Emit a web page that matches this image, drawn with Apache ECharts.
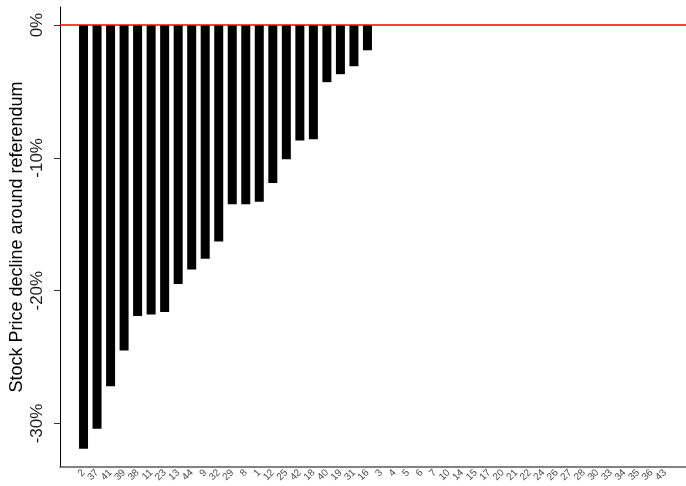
<!DOCTYPE html>
<html>
<head>
<meta charset="utf-8">
<script src="https://cdn.jsdelivr.net/npm/echarts@6/dist/echarts.min.js"></script>
<style>
  html, body { margin: 0; padding: 0; background: #fff; }
  #chart { width: 686px; height: 486px; }
</style>
</head>
<body>
<div id="chart"></div>
<script>
// Stock identifiers, ordered by size of the decline
const categories = ['2','37','41','39','38','11','23','13','44','9','32','29','8','1','12','25','42','18','40','19','31','16',
  '3','4','5','6','7','10','14','15','17','20','21','22','24','26','27','28','30','33','34','35','36','43'];

// Price change around the referendum, in percent
const declines = [-31.9, -30.4, -27.2, -24.5, -21.9, -21.8, -21.6, -19.5, -18.4, -17.6, -16.3, -13.5, -13.5, -13.3,
  -11.9, -10.1, -8.7, -8.6, -4.3, -3.7, -3.1, -1.9,
  0, 0, 0, 0, 0, 0, 0, 0, 0, 0, 0, 0, 0, 0, 0, 0, 0, 0, 0, 0, 0, 0];

const yTicks = [0, -10, -20, -30];

const X_MIN = -1.74;
const X_MAX = 44.56;

const chart = echarts.init(document.getElementById('chart'), null, { renderer: 'canvas' });

// Blank labels at both ends of the axis keep every category label visible
const xLabelValues = [X_MIN, ...categories.map((_, i) => i), X_MAX];

chart.setOption({
  animation: false,
  backgroundColor: '#ffffff',
  grid: { left: 60, right: 0, top: 7, bottom: 19, containLabel: false, outerBoundsMode: 'none' },
  xAxis: {
    type: 'value',
    min: X_MIN,
    max: X_MAX,
    splitLine: { show: false },
    axisLine: { show: true, onZero: false, lineStyle: { color: '#5a5a5a', width: 1.5 } },
    axisTick: { show: false },
    axisLabel: {
      customValues: xLabelValues,
      showMinLabel: true,
      showMaxLabel: true,
      hideOverlap: false,
      rotate: 45,
      margin: 4,
      fontSize: 10,
      fontFamily: 'Liberation Sans, Arial, sans-serif',
      color: '#4d4d4d',
      formatter: v => Number.isInteger(v) ? (categories[v] ?? '') : ''
    }
  },
  yAxis: {
    type: 'value',
    min: -33.28,
    max: 1.36,
    splitLine: { show: false },
    axisLine: { show: true, onZero: false, lineStyle: { color: '#000000', width: 1 } },
    axisTick: { show: true, customValues: yTicks, length: 6, lineStyle: { color: '#333333' } },
    axisLabel: {
      customValues: yTicks,
      showMinLabel: true,
      showMaxLabel: true,
      rotate: 90,
      margin: 14,
      fontSize: 17,
      fontFamily: 'Liberation Sans, Arial, sans-serif',
      color: '#1a1a1a',
      formatter: v => v + '%'
    },
    name: 'Stock Price decline around referendum',
    nameLocation: 'middle',
    nameGap: 34,
    nameMoveOverlap: false,
    nameRotate: 90,
    nameTextStyle: {
      fontSize: 18,
      fontFamily: 'Liberation Sans, Arial, sans-serif',
      color: '#000000'
    }
  },
  series: [{
    type: 'bar',
    data: declines.map((v, i) => [i, v]),
    barWidth: 9,
    itemStyle: { color: '#000000' },
    markLine: {
      silent: true,
      symbol: ['none', 'none'],
      label: { show: false },
      lineStyle: { color: '#ff0000', width: 1.5, type: 'solid' },
      data: [{ yAxis: 0 }]
    }
  }]
});
</script>
</body>
</html>
